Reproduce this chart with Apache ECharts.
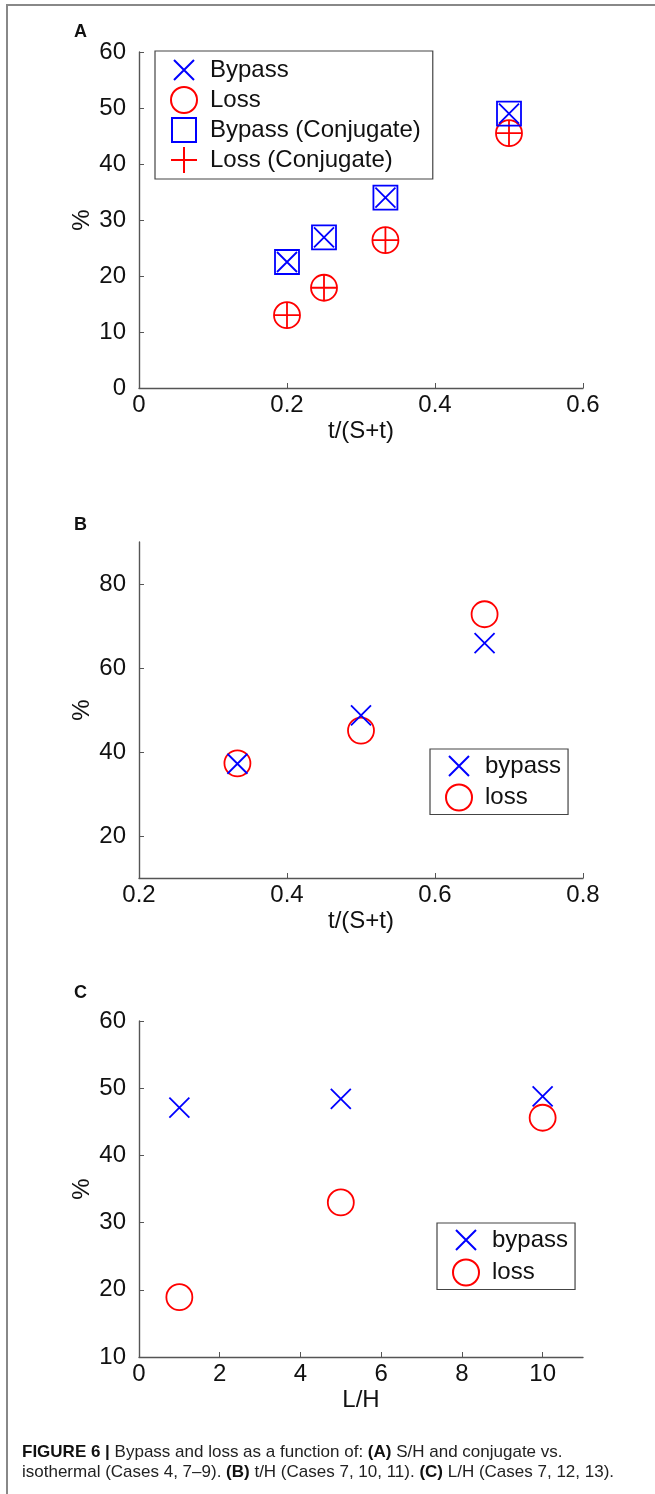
<!DOCTYPE html>
<html>
<head>
<meta charset="utf-8">
<script src="https://cdn.jsdelivr.net/npm/echarts@6/dist/echarts.min.js"></script>
<style>
  html, body { margin: 0; padding: 0; background: #fff; }
  #chart { width: 655px; height: 1494px; }
</style>
</head>
<body>
<div id="chart"></div>
<script>
// panel A: t/(S+t), isothermal vs conjugate
const aX = [0.2, 0.25, 0.333, 0.5]
const aBypass = [22.5, 26.9, 34.0, 49.0]
const aLoss = [13.0, 17.9, 26.4, 45.5]
const aBypassConj = [22.5, 26.9, 34.0, 49.0]
const aLossConj = [13.0, 17.9, 26.4, 45.5]
const aXTicks = [0, 0.2, 0.4, 0.6]
const aYTicks = [0, 10, 20, 30, 40, 50, 60]

// panel B: t/(S+t)
const bX = [0.333, 0.5, 0.667]
const bBypass = [37.2, 48.7, 65.9]
const bLoss = [37.3, 45.1, 72.8]
const bXTicks = [0.2, 0.4, 0.6, 0.8]
const bYTicks = [20, 40, 60, 80]

// panel C: L/H
const cX = [1, 5, 10]
const cBypass = [47.1, 48.4, 48.8]
const cLoss = [18.9, 33.0, 45.6]
const cXTicks = [0, 2, 4, 6, 8, 10]
const cYTicks = [10, 20, 30, 40, 50, 60]

const FONT = '"Liberation Sans", Arial, sans-serif'
const BLUE = '#0000ff'
const RED = '#ff0000'
// every marker lives in a 26x26 box (the leading moves set the box) so legend and plot match
const X_MARK = 'path://M0,0M26,26M3,3L23,23M23,3L3,23'
const SQUARE_MARK = 'path://M0,0M26,26M1,1L25,1L25,25L1,25Z'
const PLUS_MARK = 'path://M0,0M26,26M13,0L13,26M0,13L26,13'
const CIRCLE_MARK = 'path://M0,13A13,13 0 1,1 26,13A13,13 0 1,1 0,13Z'

const chart = echarts.init(document.getElementById('chart'))

function pairs(xs, ys) {
  return xs.map((x, i) => [x, ys[i]])
}

function scatter(name, idx, data, symbol, color, z) {
  return {
    name: name,
    type: 'scatter',
    xAxisIndex: idx,
    yAxisIndex: idx,
    symbol: symbol,
    symbolSize: 26,
    z: z,
    silent: true,
    itemStyle: { color: 'rgba(0,0,0,0)', borderColor: color, borderWidth: 1.8, opacity: 1 },
    data: data
  }
}

function xAxis(idx, min, max, ticks, name) {
  return {
    gridIndex: idx,
    type: 'value',
    min: min,
    max: max,
    name: name,
    nameLocation: 'middle',
    nameGap: 31,
    nameMoveOverlap: false,
    nameTextStyle: { fontSize: 24, color: '#111', fontFamily: FONT },
    axisLine: { show: true, lineStyle: { color: '#555', width: 1.4 } },
    axisTick: { show: true, inside: true, length: 5, customValues: ticks, lineStyle: { color: '#555' } },
    axisLabel: { customValues: ticks, margin: 5, fontSize: 24, color: '#111', fontFamily: FONT },
    splitLine: { show: false }
  }
}

function yAxis(idx, min, max, ticks) {
  return {
    gridIndex: idx,
    type: 'value',
    min: min,
    max: max,
    name: '%',
    nameLocation: 'middle',
    nameRotate: 90,
    nameGap: 45,
    nameMoveOverlap: false,
    nameTextStyle: { fontSize: 24, color: '#111', fontFamily: FONT },
    axisLine: { show: true, lineStyle: { color: '#555', width: 1.4 } },
    axisTick: { show: true, inside: true, length: 5, customValues: ticks, lineStyle: { color: '#555' } },
    axisLabel: { customValues: ticks, margin: 13, fontSize: 24, color: '#111', fontFamily: FONT },
    splitLine: { show: false }
  }
}

function legend(names, left, top, gap, padding) {
  return {
    orient: 'vertical',
    left: left,
    top: top,
    itemWidth: 26,
    itemHeight: 26,
    itemGap: gap,
    padding: padding,
    borderColor: '#444',
    borderWidth: 1.2,
    selectedMode: false,
    textStyle: { fontSize: 24, color: '#111', fontFamily: FONT, padding: [0, 0, 0, 8] },
    data: names
  }
}

function label(text, left, top) {
  return {
    type: 'text',
    left: left,
    top: top,
    style: { text: text, fontSize: 18, fontWeight: 'bold', fill: '#111', fontFamily: FONT }
  }
}

chart.setOption({
  backgroundColor: '#fff',
  animation: false,
  grid: [
    { left: 139, right: 72, top: 52, height: 336 },
    { left: 139, right: 72, top: 542, height: 336 },
    { left: 139, right: 72, top: 1021, height: 336 }
  ],
  xAxis: [
    xAxis(0, 0, 0.6, aXTicks, 't/(S+t)'),
    xAxis(1, 0.2, 0.8, bXTicks, 't/(S+t)'),
    xAxis(2, 0, 11, cXTicks, 'L/H')
  ],
  yAxis: [
    yAxis(0, 0, 60, aYTicks),
    yAxis(1, 10, 90, bYTicks),
    yAxis(2, 10, 60, cYTicks)
  ],
  legend: [
    legend(['Bypass', 'Loss', 'Bypass (Conjugate)', 'Loss (Conjugate)'], 155, 51, 2, [5, 12, 5, 15]),
    legend(['bypass', 'loss'], 430, 749, 3.5, [3, 7, 3, 15]),
    legend(['bypass', 'loss'], 437, 1223, 4.5, [3, 7, 3, 15])
  ],
  series: [
    scatter('Loss', 0, pairs(aX, aLoss), CIRCLE_MARK, RED, 2),
    scatter('Loss (Conjugate)', 0, pairs(aX, aLossConj), PLUS_MARK, RED, 3),
    scatter('Bypass (Conjugate)', 0, pairs(aX, aBypassConj), SQUARE_MARK, BLUE, 4),
    scatter('Bypass', 0, pairs(aX, aBypass), X_MARK, BLUE, 5),
    scatter('loss', 1, pairs(bX, bLoss), CIRCLE_MARK, RED, 2),
    scatter('bypass', 1, pairs(bX, bBypass), X_MARK, BLUE, 3),
    scatter('loss', 2, pairs(cX, cLoss), CIRCLE_MARK, RED, 2),
    scatter('bypass', 2, pairs(cX, cBypass), X_MARK, BLUE, 3)
  ],
  graphic: [
    { type: 'line', shape: { x1: 7, y1: 5, x2: 655, y2: 5 }, style: { stroke: '#888', lineWidth: 2 } },
    { type: 'line', shape: { x1: 7, y1: 4, x2: 7, y2: 1494 }, style: { stroke: '#888', lineWidth: 2 } },
    label('A', 74, 23),
    label('B', 74, 516),
    label('C', 74, 984),
    {
      type: 'text',
      left: 22,
      top: 1442,
      style: {
        text: '{b|FIGURE 6 |} Bypass and loss as a function of: {b|(A)} S/H and conjugate vs.\nisothermal (Cases 4, 7–9). {b|(B)} t/H (Cases 7, 10, 11). {b|(C)} L/H (Cases 7, 12, 13).',
        fontSize: 17,
        lineHeight: 20,
        fill: '#222',
        fontFamily: FONT,
        rich: {
          b: { fontSize: 17, lineHeight: 20, fontWeight: 'bold', fill: '#111', fontFamily: FONT }
        }
      }
    }
  ]
})
</script>
</body>
</html>
